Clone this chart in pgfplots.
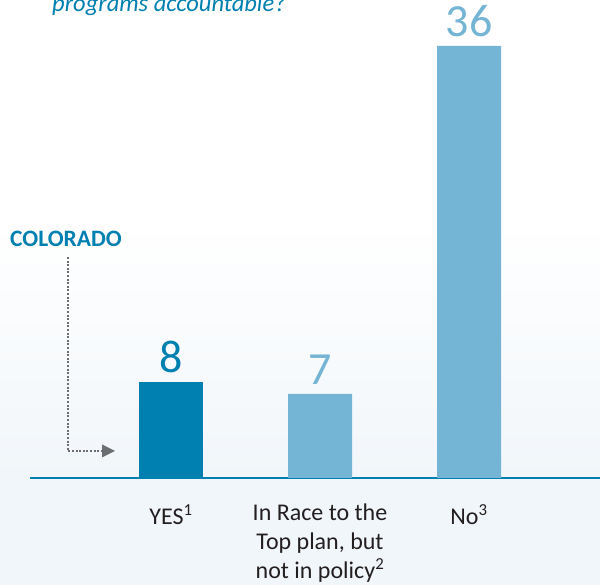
\documentclass[border=0pt]{standalone}
\usepackage{fontspec}
\setmainfont{Carlito}
\usepackage{pgfplots}
\pgfplotsset{compat=1.18}
\definecolor{darkblue}{HTML}{0080B0}
\definecolor{lightblue}{HTML}{74B4D4}
\definecolor{labelgray}{HTML}{231F20}
\definecolor{arrowgray}{HTML}{6D6E71}
\definecolor{bgblue}{HTML}{F1F6FA}
\begin{document}
\begin{tikzpicture}
% background
\fill[white] (0pt,0pt) rectangle (600pt,585pt);
\shade[top color=white, bottom color=bgblue] (0pt,105pt) rectangle (600pt,365pt);
\fill[bgblue] (0pt,0pt) rectangle (600pt,105pt);
% title (cut at top, as in the reference)
\node[anchor=base west, inner sep=0pt, font=\fontsize{24.5}{29}\selectfont\itshape, text=darkblue] at (52pt,573pt) {programs accountable?};
% Colorado annotation
\node[anchor=base, inner sep=0pt, font=\fontsize{23.5}{28}\selectfont\bfseries, text=darkblue] at (66pt,338pt) {COLORADO};
\draw[arrowgray, line width=2.2pt, dash pattern=on 2pt off 1.6pt] (68pt,328pt) -- (68pt,134pt) -- (103pt,134pt);
\fill[arrowgray] (102pt,140.5pt) -- (115pt,134pt) -- (102pt,127.5pt) -- cycle;
\begin{axis}[
  at={(171pt,107pt)}, anchor=origin,
  x=149pt, y=12pt,
  xmin=-0.946, xmax=2.879,
  ymin=0, ymax=40,
  clip=false,
  axis x line=bottom,
  axis y line=none,
  axis line style={draw=darkblue, line width=1.6pt, -},
  xtick={0,1,2},
  xticklabels={{YES\textsuperscript{1}},{In Race to the\\Top plan, but\\not in policy\textsuperscript{2}},{No\textsuperscript{3}}},
  major tick length=0pt,
  xticklabel style={anchor=north, inner sep=0pt, align=center, text=labelgray, font=\fontsize{24}{29}\selectfont},
  xticklabel shift=26pt,
  ytick=\empty,
  /pgf/number format/assume math mode=true,
  nodes near coords={\fontsize{46}{50}\selectfont\pgfmathprintnumber{\pgfplotspointmeta}},
  every node near coord/.append style={anchor=base, inner sep=0pt, yshift=9pt},
]
\addplot[ybar, bar shift=0pt, bar width=64pt, fill=darkblue, draw=none, every node near coord/.append style={text=darkblue}] coordinates {(0,8)};
\addplot[ybar, bar shift=0pt, bar width=64pt, fill=lightblue, draw=none, every node near coord/.append style={text=lightblue}] coordinates {(1,7) (2,36)};
\end{axis}
\pgfresetboundingbox
\useasboundingbox (0pt,0pt) rectangle (600pt,585pt);
\end{tikzpicture}
\end{document}
